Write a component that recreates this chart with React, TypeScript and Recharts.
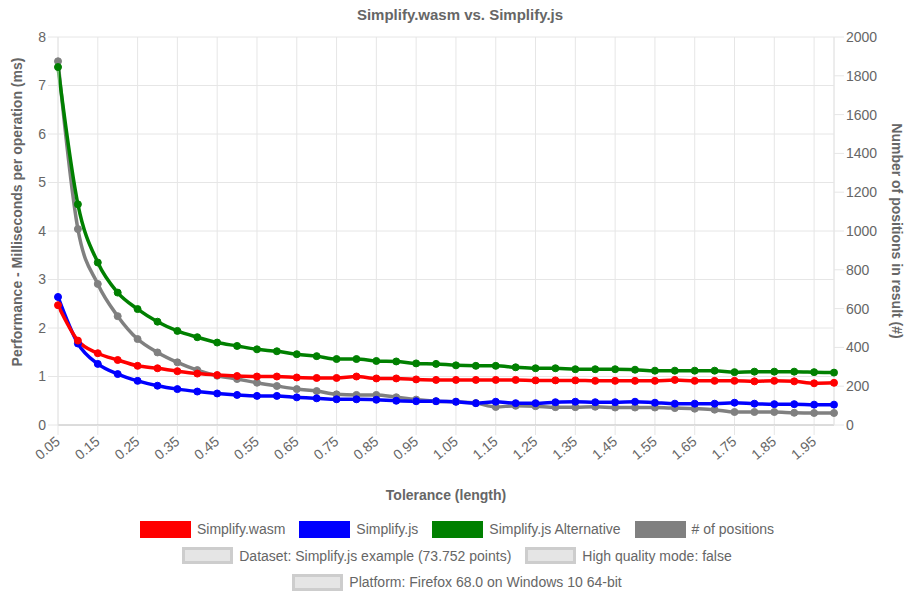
import React from 'react';
import { LineChart, Line, XAxis, YAxis, CartesianGrid } from 'recharts';

const categories = ['0.05','0.10','0.15','0.20','0.25','0.30','0.35','0.40','0.45','0.50','0.55','0.60','0.65','0.70','0.75','0.80','0.85','0.90','0.95','1.00','1.05','1.10','1.15','1.20','1.25','1.30','1.35','1.40','1.45','1.50','1.55','1.60','1.65','1.70','1.75','1.80','1.85','1.90','1.95','2.00'];

const xTickLabels = ['0.05','0.15','0.25','0.35','0.45','0.55','0.65','0.75','0.85','0.95','1.05','1.15','1.25','1.35','1.45','1.55','1.65','1.75','1.85','1.95'];

const wasmMs = [2.47,1.74,1.48,1.34,1.22,1.17,1.11,1.06,1.03,1.01,1.00,1.00,0.98,0.97,0.97,1.00,0.96,0.96,0.94,0.93,0.93,0.93,0.93,0.93,0.92,0.92,0.92,0.91,0.91,0.91,0.91,0.93,0.91,0.91,0.91,0.90,0.91,0.90,0.86,0.87];

const jsMs = [2.64,1.68,1.26,1.05,0.91,0.81,0.74,0.69,0.65,0.62,0.60,0.60,0.57,0.55,0.53,0.53,0.52,0.50,0.49,0.49,0.48,0.45,0.48,0.45,0.45,0.47,0.48,0.47,0.47,0.48,0.46,0.44,0.44,0.44,0.46,0.44,0.43,0.43,0.42,0.42];

const altMs = [7.38,4.55,3.35,2.73,2.39,2.13,1.94,1.81,1.70,1.63,1.56,1.52,1.46,1.42,1.36,1.36,1.32,1.31,1.27,1.26,1.23,1.22,1.22,1.19,1.17,1.17,1.15,1.15,1.15,1.14,1.12,1.12,1.12,1.12,1.09,1.10,1.10,1.10,1.09,1.08];

const positions = [1875,1010,727,561,443,374,323,283,254,237,218,201,185,175,158,155,155,143,131,123,120,113,93,99,97,92,92,94,90,90,90,87,84,79,67,67,67,63,62,62];

const leftTicks = [0,1,2,3,4,5,6,7,8];
const rightTicks = [0,200,400,600,800,1000,1200,1400,1600,1800,2000];

const legendRows = [
  [
    { label: 'Simplify.wasm', color: '#ff0000' },
    { label: 'Simplify.js', color: '#0000ff' },
    { label: 'Simplify.js Alternative', color: '#008000' },
    { label: '# of positions', color: '#808080' },
  ],
  [
    { label: 'Dataset: Simplify.js example (73.752 points)', color: null },
    { label: 'High quality mode: false', color: null },
  ],
  [
    { label: 'Platform: Firefox 68.0 on Windows 10 64-bit', color: null },
  ],
];

const data = categories.map((c, i) => ({
  tol: c,
  wasm: wasmMs[i],
  js: jsMs[i],
  alt: altMs[i],
  positions: positions[i],
}));

const TEXT = '#666666';
const GRID = '#e6e6e6';

const XTick = (props: any) => {
  const { x, y, payload } = props;
  const ax = x + 3;
  const ay = y + 6;
  return (
    <text x={ax} y={ay} transform={`rotate(-40, ${ax}, ${ay})`} textAnchor="end" fill={TEXT} fontSize={14}>
      {payload.value}
    </text>
  );
};

const leftLabel = (props: any) => {
  const vb = props.viewBox || { x: 0, y: 37, width: 58, height: 388 };
  const cx = vb.x + 17;
  const cy = vb.y + vb.height / 2 - 19;
  return (
    <text x={cx} y={cy} transform={`rotate(-90, ${cx}, ${cy})`} textAnchor="middle" dominantBaseline="central" fill={TEXT} fontWeight="bold" fontSize={14}>
      Performance - Milliseconds per operation (ms)
    </text>
  );
};

const rightLabel = (props: any) => {
  const vb = props.viewBox || { x: 834, y: 37, width: 72, height: 388 };
  const cx = vb.x + 63;
  const cy = vb.y + vb.height / 2;
  return (
    <text x={cx} y={cy} transform={`rotate(90, ${cx}, ${cy})`} textAnchor="middle" dominantBaseline="central" fill={TEXT} fontWeight="bold" fontSize={14}>
      Number of positions in result (#)
    </text>
  );
};

const bottomLabel = (props: any) => {
  const vb = props.viewBox || { x: 58, y: 425, width: 776, height: 80 };
  const cx = vb.x + vb.width / 2;
  const cy = vb.y + 70;
  return (
    <text x={cx} y={cy} textAnchor="middle" dominantBaseline="central" fill={TEXT} fontWeight="bold" fontSize={14}>
      Tolerance (length)
    </text>
  );
};

export default function App() {
  return (
    <div style={{ position: 'absolute', left: 0, top: 0, width: 906, height: 591, fontFamily: '"Liberation Sans", Arial, sans-serif', background: '#fff' }}>
      <div style={{ position: 'absolute', left: 0, top: 6, width: 906, paddingLeft: 14, boxSizing: 'border-box', textAlign: 'center', fontWeight: 'bold', fontSize: 15, color: TEXT, lineHeight: '18px' }}>
        Simplify.wasm vs. Simplify.js
      </div>
      <LineChart width={906} height={591} data={data} margin={{ top: 37, right: 0, bottom: 86, left: 0 }}>
        <CartesianGrid yAxisId="left" stroke={GRID} strokeWidth={1} />
        <XAxis
          dataKey="tol"
          ticks={xTickLabels}
          interval={0}
          height={80}
          tickSize={10}
          tickLine={{ stroke: GRID }}
          axisLine={{ stroke: '#c4c4c4' }}
          tick={XTick}
          label={{ content: bottomLabel }}
        />
        <YAxis
          yAxisId="left"
          orientation="left"
          width={58}
          domain={[0, 8]}
          ticks={leftTicks}
          tickSize={10}
          tickLine={{ stroke: GRID }}
          axisLine={{ stroke: GRID }}
          tick={{ fill: TEXT, fontSize: 14 }}
          label={{ content: leftLabel }}
        />
        <YAxis
          yAxisId="right"
          orientation="right"
          width={72}
          domain={[0, 2000]}
          ticks={rightTicks}
          tickSize={10}
          tickLine={{ stroke: GRID }}
          axisLine={{ stroke: GRID }}
          tick={{ fill: TEXT, fontSize: 14 }}
          label={{ content: rightLabel }}
        />
        <Line yAxisId="right" type="monotone" dataKey="positions" stroke="#808080" strokeWidth={3.5} dot={{ r: 3.5, fill: '#808080', stroke: '#808080', strokeWidth: 1 }} isAnimationActive={false} />
        <Line yAxisId="left" type="monotone" dataKey="alt" stroke="#008000" strokeWidth={3.5} dot={{ r: 3.5, fill: '#008000', stroke: '#008000', strokeWidth: 1 }} isAnimationActive={false} />
        <Line yAxisId="left" type="monotone" dataKey="js" stroke="#0000ff" strokeWidth={3.5} dot={{ r: 3.5, fill: '#0000ff', stroke: '#0000ff', strokeWidth: 1 }} isAnimationActive={false} />
        <Line yAxisId="left" type="monotone" dataKey="wasm" stroke="#ff0000" strokeWidth={3.5} dot={{ r: 3.5, fill: '#ff0000', stroke: '#ff0000', strokeWidth: 1 }} isAnimationActive={false} />
      </LineChart>
      <div style={{ position: 'absolute', left: 0, top: 516, width: 906 }}>
        {legendRows.map((row, ri) => (
          <div key={ri} style={{ display: 'flex', justifyContent: 'center', alignItems: 'center', gap: 14, height: 26.5, paddingLeft: 8, boxSizing: 'border-box' }}>
            {row.map((item) => (
              <div key={item.label} style={{ display: 'flex', alignItems: 'center' }}>
                <div
                  style={{
                    width: 45,
                    height: 11,
                    border: item.color ? `3px solid ${item.color}` : '3px solid rgba(0,0,0,0.1)',
                    background: item.color ? item.color : 'rgba(0,0,0,0.1)',
                    marginRight: 6,
                  }}
                />
                <span style={{ fontSize: 14, color: TEXT, whiteSpace: 'nowrap' }}>{item.label}</span>
              </div>
            ))}
          </div>
        ))}
      </div>
    </div>
  );
}
